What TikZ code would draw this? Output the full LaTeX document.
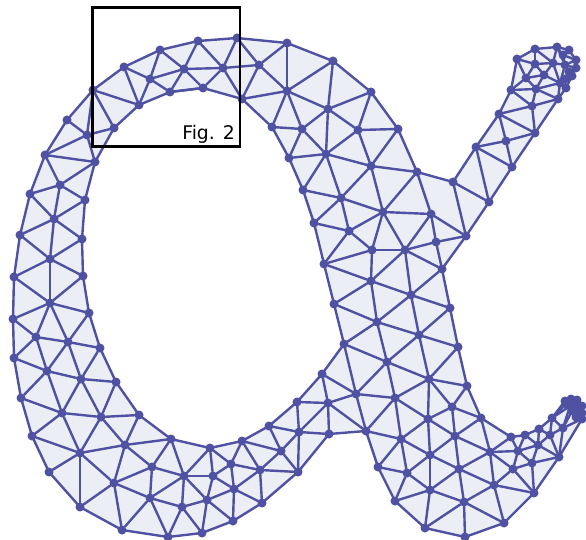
\documentclass[tikz,border=0pt]{standalone}
\usepackage{fontspec}
\setmainfont{DejaVu Sans}
\usetikzlibrary{backgrounds}
\definecolor{meshline}{HTML}{4F51A3}
\definecolor{meshface}{HTML}{ECEEF6}
\tikzset{
  vertex/.style={circle,fill=meshline,inner sep=0pt,outer sep=0pt,minimum size=9pt},
  edge/.style={draw=meshline,line width=2.4pt},
}
\begin{document}
\begin{tikzpicture}[x=1pt, y=-1pt, line cap=round, line join=round]
\useasboundingbox (0,0) rectangle (586,540);

%-----------------------
% outer boundary: 1..67, inner boundary: 68..93, the rest inside
%-----------------------
\foreach \n/\x/\y in {
  1/93/90, 2/124/67, 3/160/50, 4/198/41, 5/237/38, 6/287/43, 7/333/61, 8/371/92,
  9/398/129, 10/417/172, 11/453/182, 12/476/147, 13/499/114, 14/511/90, 15/517/59,
  16/535/49, 17/557/47, 18/569/50, 19/576/60, 20/576/68, 21/572/76, 22/566/88,
  23/558/99, 24/535/133, 25/512/167, 26/489/202, 27/466/236, 28/442/269, 29/450/308,
  30/458/347, 31/467/386, 32/481/418, 33/511/437, 34/525/435, 35/539/429, 36/552/418,
  37/565/401, 38/571/399, 39/577/400, 40/582/406, 41/582/419, 42/559/457, 43/534/493,
  44/504/523, 45/465/537, 46/425/528, 47/395/501, 48/378/467, 49/366/431, 50/329/434,
  51/298/472, 52/262/503, 53/233/521, 54/202/533, 55/168/537, 56/122/530, 57/80/507,
  58/49/472, 59/32/436, 60/21/398, 61/14/358, 62/13/319, 63/14/277, 64/20/235,
  65/30/194, 66/45/155, 67/67/120,
  68/114/128, 69/95/162, 70/85/200, 71/82/239, 72/83/276, 73/89/313, 74/100/348,
  75/116/382, 76/139/415, 77/171/439, 78/210/448, 79/242/441, 80/269/426, 81/297/402,
  82/322/374, 83/344/344, 84/334/304, 85/324/264, 86/314/223, 87/303/190, 88/289/158,
  89/272/127, 90/242/99, 91/203/88, 92/170/92, 93/139/105,
  94/87/135, 95/60/185, 96/54/219, 97/50/259, 98/50/303, 99/36/337, 100/68/342,
  101/47/371, 102/81/379, 103/62/413, 104/101/417, 105/80/453, 106/125/445, 107/114/483,
  108/152/467, 109/184/476, 110/150/498, 111/182/507, 112/213/476, 113/207/500,
  114/231/464, 115/234/489, 116/260/470, 117/281/451, 118/299/432, 119/328/403,
  120/356/394, 121/387/362, 122/377/322, 123/371/281, 124/372/250, 125/349/231,
  126/341/198, 127/326/154, 128/302/129, 129/287/91, 130/259/65, 131/223/68, 132/184/69,
  133/150/79, 134/328/109, 135/358/130, 136/371/166, 137/383/212, 138/431/214,
  139/405/250, 140/436/242, 141/411/295, 142/419/335, 143/429/379, 144/395/398,
  145/428/419, 146/452/407, 147/401/439, 148/455/436, 149/430/455, 150/407/473,
  151/430/490, 152/459/469, 153/464/502, 154/490/452, 155/494/485, 156/513/469,
  157/532/463, 158/518/451, 159/538/445, 160/550/435, 161/563/428, 162/570/406,
  163/506/141, 164/532/106, 165/536/89, 166/526/78, 167/544/75, 168/535/64, 169/553/63,
  170/560/83, 171/565/65, 172/577/413, 173/576/405, 174/572/411, 175/582/413,
  176/578/408, 177/563/55, 178/569/72, 179/565/79, 180/574/403, 181/576/417, 182/566/404}
  \node[vertex] (v\n) at (\x,\y) {};

%-----------------------
% faces and boundary, behind the vertices
%-----------------------
\begin{scope}[on background layer]
\path[edge, fill=meshface, even odd rule]
  (v1.center) \foreach \n in {2,...,67} {-- (v\n.center)} -- cycle
  (v68.center) \foreach \n in {69,...,93} {-- (v\n.center)} -- cycle;
\end{scope}

%-----------------------
% inner edges
%-----------------------
\foreach \a/\b in {
  2/133, 2/93, 3/133, 3/132, 4/132, 133/132, 133/92, 133/93, 132/92, 1/93, 1/68, 1/94,
  67/94, 94/68, 94/66, 94/69, 66/69, 132/131, 132/91, 92/91, 4/131, 5/131, 131/91, 131/90,
  131/130, 5/130, 6/130, 130/90, 130/129, 6/129, 7/129, 90/129, 89/129, 129/128, 129/134,
  7/134, 8/134, 8/135, 135/9, 134/135, 134/128, 89/128, 128/88, 134/127, 128/127, 135/127,
  88/127, 127/87, 127/126, 127/136, 135/136, 9/136, 136/10, 87/126, 136/126, 136/137,
  10/137, 126/86, 126/137, 126/125, 137/125, 137/124, 137/139, 137/138, 10/138, 11/27, 11/26,
  138/27, 138/139, 138/140, 140/27, 140/139, 140/28, 139/28, 139/124, 124/125, 125/85,
  86/125, 124/85, 124/123, 139/123, 139/141, 28/141, 141/29, 85/123, 123/141, 123/84,
  123/122, 141/122, 141/142, 29/142, 142/30, 84/122, 122/83, 122/142, 122/121, 142/121,
  142/143, 30/143, 143/31, 83/121, 83/120, 121/120, 82/120, 82/119, 120/119, 81/119,
  81/118, 118/119, 119/50, 120/49, 119/49, 118/50, 118/51, 80/118, 80/117, 117/118,
  117/51, 79/117, 79/114, 114/116, 117/116, 116/51, 79/116, 78/114, 78/112, 114/112,
  114/115, 112/115, 116/115, 116/52, 115/52, 115/53, 112/113, 115/113, 113/53, 113/54,
  78/109, 112/109, 109/113, 113/111, 111/54, 109/111, 77/109, 77/108, 77/106, 108/109,
  108/106, 108/110, 108/107, 109/110, 110/111, 110/107, 110/56, 110/55, 111/55, 56/107,
  57/107, 57/105, 58/105, 59/105, 59/103, 60/103, 61/101, 60/101, 101/103, 101/102,
  102/103, 102/104, 103/104, 103/105, 104/105, 104/106, 105/106, 105/107, 106/107, 104/76,
  106/76, 75/104, 75/102, 74/102, 100/102, 99/101, 100/101, 99/61, 99/62, 99/100, 100/74,
  100/73, 98/99, 98/100, 98/73, 98/62, 63/98, 97/98, 97/63, 97/72, 98/72, 97/71, 64/97,
  96/97, 96/64, 96/71, 96/70, 65/96, 95/96, 95/65, 95/70, 95/69, 95/66,
  121/143, 121/144, 143/144, 143/145, 143/146, 31/146, 146/32, 146/145, 146/148, 32/148,
  145/148, 144/145, 144/147, 145/147, 145/149, 148/149, 147/149, 148/152, 149/152, 148/154,
  32/154, 154/33, 154/158, 152/154, 154/156, 154/155, 152/155, 155/156, 155/43, 156/43,
  152/153, 155/153, 155/44, 153/44, 153/45, 153/46, 151/153, 151/152, 151/46, 150/151,
  149/151, 149/150, 147/150, 147/48, 48/150, 47/150, 47/151, 120/144, 49/144, 49/147,
  33/158, 34/158, 158/159, 34/159, 35/159, 35/160, 159/160, 36/160, 36/161, 160/161,
  159/42, 160/42, 161/42, 158/157, 158/156, 159/157, 157/42, 156/157, 157/43,
  36/162, 161/162, 161/174, 161/41, 37/162, 38/162, 39/162, 174/162, 174/172, 172/41,
  173/162, 173/38, 173/176, 176/40, 176/175, 175/41, 172/175, 172/176, 180/38, 180/39,
  180/173, 180/162, 181/172, 181/41, 181/174, 182/37, 182/162, 182/36,
  14/164, 13/164, 164/23, 164/24, 13/24, 13/163, 24/163, 163/12, 163/25, 12/25, 12/26,
  14/165, 165/23, 165/164, 14/166, 15/166, 15/168, 16/168, 168/166, 166/165, 166/167,
  167/165, 168/169, 168/167, 169/17, 16/169, 169/167, 167/170, 165/170, 170/22, 170/23,
  169/171, 17/171, 177/17, 177/18, 177/171, 177/19, 171/19, 171/20, 178/20, 178/21,
  178/171, 178/179, 179/170, 179/21, 179/22, 170/171, 169/170}
  \draw[edge] (v\a) -- (v\b);

%-----------------------
% inset frame and label
%-----------------------
\draw[black, line width=2.6pt, line cap=butt, line join=miter] (92.7,7.3) rectangle (240,146.7);
\node[anchor=base east, inner sep=0pt, font=\fontsize{18.8}{20}\selectfont] (figlabel) at (235,140) {Fig. 2};

\end{tikzpicture}
\end{document}
